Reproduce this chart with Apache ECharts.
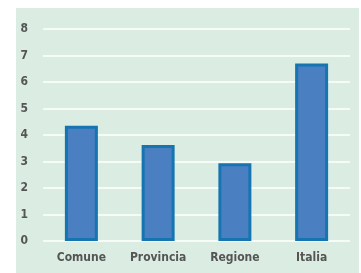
<!DOCTYPE html>
<html>
<head>
<meta charset="utf-8">
<script src="https://cdn.jsdelivr.net/npm/echarts@6/dist/echarts.min.js"></script>
<style>
html, body { margin: 0; padding: 0; background: #fff; }
#chart { width: 361px; height: 273px; }
</style>
</head>
<body>
<div id="chart"></div>
<script>
var categories = ['Comune', 'Provincia', 'Regione', 'Italia'];
var values = [4.35, 3.62, 2.93, 6.7];

var labelFont = '"DejaVu Sans Condensed", "Liberation Sans Narrow", "Roboto", sans-serif';
var chart = echarts.init(document.getElementById('chart'));
chart.setOption({
    animation: false,
    graphic: [{
        type: 'rect',
        shape: { x: 16, y: 8, width: 343, height: 265 },
        style: { fill: '#dbede3' },
        z: -10
    }],
    grid: { left: 43, right: 11, top: 29, bottom: 32 },
    xAxis: {
        type: 'category',
        data: categories,
        axisLine: { show: false },
        axisTick: { show: false },
        axisLabel: {
            interval: 0,
            color: '#555',
            fontFamily: labelFont,
            fontWeight: 'bold',
            fontSize: 12,
            margin: 11
        }
    },
    yAxis: {
        type: 'value',
        min: 0,
        max: 8,
        interval: 1,
        axisLine: { show: false },
        axisTick: { show: false },
        splitLine: { lineStyle: { color: '#ffffff', width: 1.5 } },
        axisLabel: {
            color: '#555',
            fontFamily: labelFont,
            fontWeight: 'bold',
            fontSize: 12,
            margin: 15
        }
    },
    series: [{
        type: 'bar',
        data: values,
        barWidth: 33,
        itemStyle: {
            color: '#4a7fc1',
            borderColor: '#1675b0',
            borderWidth: 3
        }
    }]
});
</script>
</body>
</html>
